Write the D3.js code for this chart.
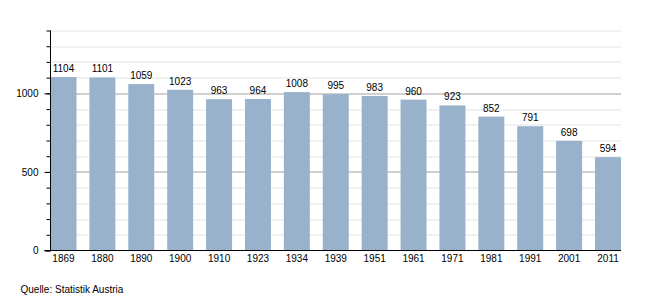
<!DOCTYPE html>
<html>
<head>
<meta charset="utf-8">
<script src="https://cdn.jsdelivr.net/npm/d3@7"></script>
<style>
  body { margin: 0; background: #fff; }
  text { font-family: "Liberation Sans", Arial, sans-serif; font-size: 10px; fill: #000; }
</style>
</head>
<body>
<div id="chart"></div>
<script>
var years = ["1869", "1880", "1890", "1900", "1910", "1923", "1934", "1939", "1951", "1961", "1971", "1981", "1991", "2001", "2011"];
var population = [1104, 1101, 1059, 1023, 963, 964, 1008, 995, 983, 960, 923, 852, 791, 698, 594];
var majorTicks = [0, 500, 1000];
var minorTicks = d3.range(0, 1401, 100);

var svgWidth = 650;
var svgHeight = 300;
var margin = { top: 30.5, right: 29, bottom: 50, left: 50.5 };
var width = 621 - margin.left;
var height = 250.5 - margin.top;

var svg = d3.select("#chart")
  .append("svg")
  .attr("width", svgWidth)
  .attr("height", svgHeight);

var chartGroup = svg.append("g")
  .attr("transform", `translate(${margin.left}, ${margin.top})`);

var xScale = d3.scaleBand()
  .domain(years)
  .range([0, width])
  .paddingInner(0.332)
  .paddingOuter(0);

var yScale = d3.scaleLinear()
  .domain([0, 1400])
  .range([height, 0]);

// minor grid lines
chartGroup.append("g")
  .selectAll("line")
  .data(minorTicks.filter(d => d % 500 !== 0))
  .enter()
  .append("line")
  .attr("x1", 0)
  .attr("x2", width)
  .attr("y1", d => Math.round(yScale(d)) + 0.5)
  .attr("y2", d => Math.round(yScale(d)) + 0.5)
  .attr("stroke", "#e3e3e3");

// major grid lines
chartGroup.append("g")
  .selectAll("line")
  .data(majorTicks.filter(d => d > 0))
  .enter()
  .append("line")
  .attr("x1", 0)
  .attr("x2", width)
  .attr("y1", d => Math.round(yScale(d)) + 0.5)
  .attr("y2", d => Math.round(yScale(d)) + 0.5)
  .attr("stroke", "#a0a0a0");

// bars
chartGroup.selectAll("rect")
  .data(population)
  .enter()
  .append("rect")
  .attr("x", (d, i) => xScale(years[i]))
  .attr("y", d => yScale(d))
  .attr("width", xScale.bandwidth())
  .attr("height", d => height - yScale(d))
  .attr("fill", "#98b2cb");

// value labels
chartGroup.selectAll(".value")
  .data(population)
  .enter()
  .append("text")
  .attr("class", "value")
  .attr("x", (d, i) => xScale(years[i]) + xScale.bandwidth() / 2)
  .attr("y", d => yScale(d) - 5)
  .attr("text-anchor", "middle")
  .text(d => d);

// y axis with minor and major ticks
var leftAxisMinor = d3.axisLeft(yScale)
  .tickValues(minorTicks)
  .tickSize(4)
  .tickFormat("");

var leftAxisMajor = d3.axisLeft(yScale)
  .tickValues(majorTicks)
  .tickSize(6)
  .tickPadding(6)
  .tickFormat(d3.format("d"));

var yMinor = chartGroup.append("g").call(leftAxisMinor);
var yMajor = chartGroup.append("g").call(leftAxisMajor);
[yMinor, yMajor].forEach(function(g) {
  g.select(".domain").remove();
  g.selectAll("line").attr("stroke", "#000");
  g.selectAll("text").attr("font-size", 10).attr("font-family", "Liberation Sans, Arial, sans-serif");
});

chartGroup.append("line")
  .attr("x1", 0).attr("x2", 0)
  .attr("y1", 0).attr("y2", height)
  .attr("stroke", "#000");

// x axis
var bottomAxis = d3.axisBottom(xScale)
  .tickSize(0)
  .tickPadding(4);

var xAxis = chartGroup.append("g")
  .attr("transform", `translate(0, ${height})`)
  .call(bottomAxis);
xAxis.select(".domain").remove();
xAxis.selectAll("text").attr("font-size", 10).attr("font-family", "Liberation Sans, Arial, sans-serif");

chartGroup.append("line")
  .attr("x1", -6).attr("x2", width)
  .attr("y1", height).attr("y2", height)
  .attr("stroke", "#000");

// source note
svg.append("text")
  .attr("x", 20.5)
  .attr("y", 293)
  .text("Quelle: Statistik Austria");
</script>
</body>
</html>
